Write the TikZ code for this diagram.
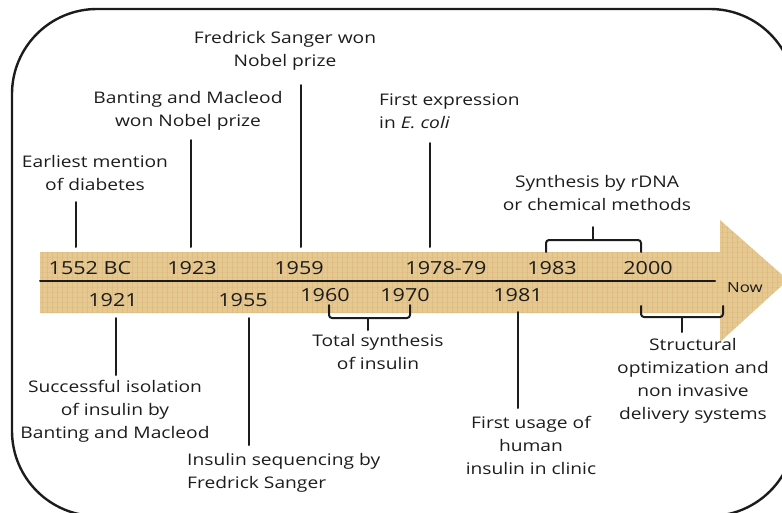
\documentclass[tikz,border=0pt]{standalone}
\usepackage{fontspec}
\setmainfont{Open Sans}[FakeStretch=1.2]
\usetikzlibrary{positioning}

\definecolor{parch}{RGB}{229,201,145}
\definecolor{ink}{RGB}{28,28,28}

\begin{document}
\begin{tikzpicture}[x=1pt,y=-1pt,line cap=round,line join=round,
  every node/.style={inner sep=1pt,text=ink},
  lbl/.style={align=center,font=\fontsize{16}{23}\selectfont},
  yr/.style={font=\fontsize{18}{20}\selectfont},
  tick/.style={line width=2pt,draw=ink},
  brace/.style={line width=2pt,draw=ink,rounded corners=3pt},
  grain/.style={line width=.5pt,draw=brown!70!parch,opacity=.22}]
  \useasboundingbox (0,0) rectangle (782,512);
  % frame
  \draw[line width=2.4pt,draw=ink,rounded corners=85pt] (12,9) rectangle (795,516);
  % the arrow
  \fill[parch] (40,252) -- (720,252) -- (720,220) -- (788,280) -- (720,342) -- (720,313) -- (40,313) -- cycle;
  \begin{scope}
    \clip (40,252) -- (720,252) -- (720,220) -- (788,280) -- (720,342) -- (720,313) -- (40,313) -- cycle;
    \foreach \x in {42,47,...,792} {
      \draw[grain] (\x,215) -- (\x,350);
    }
    \foreach \y in {222,227,...,347} {
      \draw[grain,opacity=.12] (36,\y) -- (795,\y);
    }
  \end{scope}
  \coordinate (axis start) at (40,281);
  \coordinate (axis end) at (715,281);
  \draw[tick] (axis start) -- (axis end);

  % years above the axis
  \node[yr] (y1552) at (90,268) {1552 BC};
  \node[yr] (y1923) at (192,268) {1923};
  \node[yr] (y1959) at (299,268) {1959};
  \node[yr] (y1978) at (446,268) {1978-79};
  \node[yr] (y1983) at (552,268) {1983};
  \node[yr] (y2000) at (648,268) {2000};
  % years below the axis
  \node[yr] (y1921) at (113,300) {1921};
  \node[yr] (y1955) at (243,300) {1955};
  \node[yr] (y1960) at (325,295) {1960};
  \node[yr] (y1970) at (405,295) {1970};
  \node[yr] (y1981) at (518,295) {1981};
  \node[yr,font=\fontsize{14}{16}\selectfont] (now) at (745,288) {Now};

  % events above
  \node[lbl] (mention) at (95,173) {Earliest mention\\of diabetes};
  \node[lbl] (nobel1) at (188,111) {Banting and Macleod\\won Nobel prize};
  \node[lbl] (nobel2) at (285,51) {Fredrick Sanger won\\Nobel prize};
  \node[lbl,align=left,anchor=west] (ecoli) at (378,111) {First expression\\in \textit{E. coli}};
  \node[lbl] (rdna) at (597,193) {Synthesis by rDNA\\or chemical methods};
  % events below
  \node[lbl] (isolation) at (115,411) {Successful isolation\\of insulin by\\Banting and Macleod};
  \node[lbl,align=left,anchor=west] (sequencing) at (186,473) {Insulin sequencing by\\ Fredrick Sanger};
  \node[lbl] (totalsyn) at (378,352) {Total synthesis\\of insulin};
  \node[lbl] (clinic) at (531,445) {First usage of\\human\\insulin in clinic};
  \node[lbl] (struct) at (693,381) {Structural\\optimization and\\non invasive\\delivery systems};

  % leader lines
  \coordinate (mention a) at (76,202);   \coordinate (mention b) at (76,247);
  \coordinate (nobel1 a) at (191,140);   \coordinate (nobel1 b) at (191,247);
  \coordinate (nobel2 a) at (301,85);    \coordinate (nobel2 b) at (301,247);
  \coordinate (ecoli a) at (430,143);    \coordinate (ecoli b) at (430,247);
  \coordinate (isolation a) at (116,318); \coordinate (isolation b) at (116,375);
  \coordinate (sequencing a) at (249,318); \coordinate (sequencing b) at (249,445);
  \coordinate (clinic a) at (518,312);   \coordinate (clinic b) at (518,408);
  \foreach \ev in {mention,nobel1,nobel2,ecoli,isolation,sequencing,clinic} {
    \draw[tick] (\ev\space a) -- (\ev\space b);
  }

  % braces
  \draw[brace] (329,305) -- (329,318) -- (410,318) -- (410,305);
  \draw[tick] (368,318) -- (368,330);
  \draw[brace] (546,252) -- (546,240) -- (641,240) -- (641,252);
  \draw[tick] (593,240) -- (593,227);
  \draw[brace] (641,306) -- (641,317) -- (723,317) -- (723,306);
  \draw[tick] (682,317) -- (682,332);
\end{tikzpicture}
\end{document}
